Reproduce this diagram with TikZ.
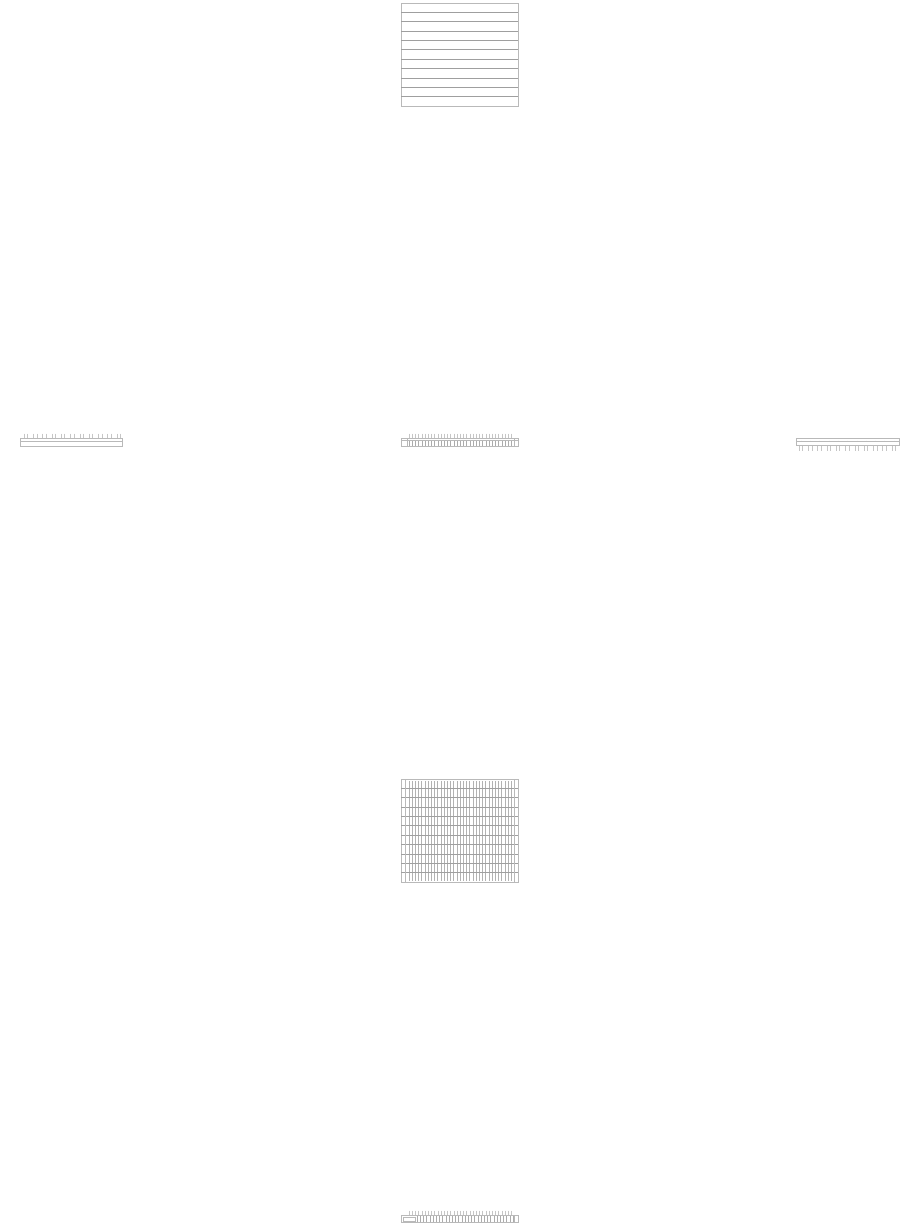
\documentclass[tikz,border=0pt]{standalone}
\begin{document}
\begin{tikzpicture}[x=1pt,y=-1pt,
  frame/.style={draw=gray!55,line width=0.7pt},
  hline/.style={draw=gray!75,line width=0.7pt},
  tick/.style={draw=gray!45,line width=0.6pt},
  gtick/.style={draw=gray!60,line width=0.7pt},
  dtick/.style={draw=gray!65,line width=0.6pt}]
\useasboundingbox[fill=white] (0,0) rectangle (920,1226);
% top grid
\draw[frame] (401,3) rectangle (518,106);
\foreach \k in {1,...,10}
  \draw[hline] (401,{3+\k*9.36}) -- (518,{3+\k*9.36});
% centre strip
\foreach \k in {0,...,32}
  \draw[tick] ({409+\k*3.2},433.5) -- ({409+\k*3.2},438);
\foreach \k in {0,...,32}
  \draw[dtick] ({409+\k*3.2},440.5) -- ({409+\k*3.2},446);
\draw[frame] (401,438) rectangle (518,446);
\draw[frame] (401,440.5) -- (518,440.5);
\draw[frame] (407,438) -- (407,446);
\draw[frame] (514,438) -- (514,446);
% left strip
\foreach \k in {0,...,10}{
  \draw[tick] ({20.5+\k*9.3+3.5},433.5) -- ({20.5+\k*9.3+3.5},438);
  \draw[tick] ({20.5+\k*9.3+7},433.5) -- ({20.5+\k*9.3+7},438);
  \draw[dtick] ({20.5+\k*9.3+5},441) -- ({20.5+\k*9.3+5},442);
}
\draw[frame] (20.5,438) rectangle (122.5,446.5);
\draw[frame] (20.5,441) -- (122.5,441);
% right strip
\foreach \k in {0,...,10}{
  \draw[tick] ({796.5+\k*9.3+2.5},445) -- ({796.5+\k*9.3+2.5},450.5);
  \draw[tick] ({796.5+\k*9.3+6},445) -- ({796.5+\k*9.3+6},450.5);
  \draw[dtick] ({796.5+\k*9.3+4.5},440.5) -- ({796.5+\k*9.3+4.5},441.5);
}
\draw[frame] (796.5,438) rectangle (899,445);
\draw[frame] (796.5,441) -- (899,441);
% bottom grid
\foreach \k in {0,...,32}
  \draw[gtick] ({409+\k*3.2},781) -- ({409+\k*3.2},881);
\draw[frame] (401,779) rectangle (518,882);
\foreach \k in {1,...,10}
  \draw[hline] (401,{779+\k*9.36}) -- (518,{779+\k*9.36});
\draw[frame] (405,779) -- (405,882);
\draw[frame] (514,779) -- (514,882);
% bottom strip
\foreach \k in {0,...,32}
  \draw[tick] ({409+\k*3.2},1210.5) -- ({409+\k*3.2},1215.5);
\foreach \k in {0,...,30}
  \draw[dtick] ({417+\k*3.2},1216) -- ({417+\k*3.2},1222);
\draw[frame] (401,1215.5) rectangle (518,1222.5);
\draw[frame] (403,1217) rectangle (415,1221);
\draw[frame] (514,1215.5) -- (514,1222.5);
\end{tikzpicture}
\end{document}
